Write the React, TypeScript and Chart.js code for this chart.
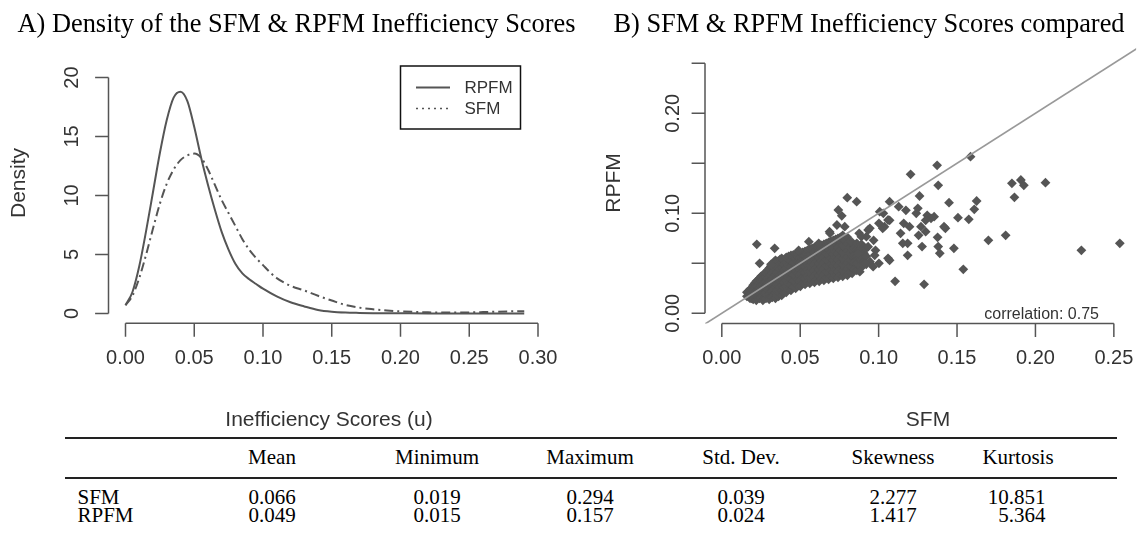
import { useEffect, useRef } from 'react';
import { Chart, registerables } from 'chart.js';

Chart.register(...registerables);

// ---------------- Panel A: densities ----------------
const rpfmGrid = [0, 0.005, 0.01, 0.015, 0.02, 0.025, 0.03, 0.035, 0.04, 0.045, 0.05, 0.055, 0.06, 0.065, 0.07, 0.075, 0.08, 0.085, 0.09, 0.095, 0.1, 0.11, 0.12, 0.13, 0.14, 0.15, 0.16, 0.17, 0.18, 0.2, 0.22, 0.24, 0.26, 0.29];
const rpfmDensity = [0.7, 1.8, 4.0, 7.0, 10.3, 13.6, 16.4, 18.3, 18.8, 18.0, 15.8, 13.2, 10.9, 8.8, 6.9, 5.4, 4.2, 3.4, 2.9, 2.5, 2.1, 1.45, 0.95, 0.6, 0.3, 0.15, 0.08, 0.05, 0.03, 0.02, 0.01, 0.01, 0.01, 0.01];
const sfmGrid = [0, 0.005, 0.01, 0.015, 0.02, 0.025, 0.03, 0.035, 0.04, 0.045, 0.05, 0.055, 0.06, 0.065, 0.07, 0.075, 0.08, 0.085, 0.09, 0.095, 0.1, 0.105, 0.11, 0.12, 0.13, 0.14, 0.15, 0.16, 0.17, 0.18, 0.19, 0.2, 0.22, 0.24, 0.26, 0.28, 0.29];
const sfmDensity = [0.7, 1.5, 3.0, 5.0, 7.2, 9.3, 11.0, 12.2, 13.0, 13.4, 13.55, 13.2, 12.2, 10.9, 9.6, 8.5, 7.4, 6.3, 5.4, 4.7, 4.1, 3.5, 3.0, 2.35, 1.95, 1.5, 1.1, 0.72, 0.5, 0.36, 0.25, 0.18, 0.1, 0.08, 0.12, 0.18, 0.2];
const densityXTicks = [0, 0.05, 0.1, 0.15, 0.2, 0.25, 0.3];
const densityXLabels = ['0.00', '0.05', '0.10', '0.15', '0.20', '0.25', '0.30'];
const densityYTicks = [0, 5, 10, 15, 20];
const densityYLabels = ['0', '5', '10', '15', '20'];
const densitySeriesNames = ['RPFM', 'SFM'];

// ---------------- Panel B: scatter ----------------
// dense cloud: each entry is [SFM score, list of RPFM scores observed near it]
const clusterColumns: [number, number[]][] = [
  [0.0160, [0.017, 0.021]],
  [0.0170, [0.017, 0.022]],
  [0.0180, [0.015, 0.019, 0.024]],
  [0.0190, [0.015, 0.020, 0.025]],
  [0.0200, [0.014, 0.018, 0.023, 0.028]],
  [0.0210, [0.016, 0.021, 0.026, 0.030]],
  [0.0220, [0.013, 0.017, 0.022, 0.027, 0.032]],
  [0.0230, [0.016, 0.022, 0.028, 0.033]],
  [0.0240, [0.015, 0.020, 0.025, 0.030, 0.035]],
  [0.0250, [0.016, 0.022, 0.028, 0.033, 0.037]],
  [0.0262, [0.013, 0.018, 0.023, 0.029, 0.034, 0.038]],
  [0.0272, [0.0155, 0.0205, 0.026, 0.0315, 0.036, 0.040]],
  [0.0282, [0.015, 0.021, 0.027, 0.032, 0.037, 0.041]],
  [0.0292, [0.018, 0.024, 0.0295, 0.0345, 0.039, 0.043]],
  [0.0302, [0.014, 0.019, 0.025, 0.031, 0.036, 0.041, 0.045]],
  [0.0312, [0.0165, 0.022, 0.028, 0.0335, 0.0385, 0.043, 0.047]],
  [0.0322, [0.016, 0.022, 0.028, 0.034, 0.040, 0.046, 0.049]],
  [0.0332, [0.019, 0.025, 0.031, 0.037, 0.043, 0.048, 0.051]],
  [0.0342, [0.015, 0.020, 0.026, 0.032, 0.038, 0.044, 0.050, 0.053]],
  [0.0352, [0.0175, 0.023, 0.029, 0.035, 0.041, 0.047, 0.052]],
  [0.0362, [0.017, 0.023, 0.029, 0.035, 0.041, 0.047, 0.052]],
  [0.0372, [0.020, 0.026, 0.032, 0.038, 0.044, 0.050, 0.054]],
  [0.0382, [0.018, 0.023, 0.028, 0.034, 0.040, 0.046, 0.051, 0.055]],
  [0.0396, [0.0205, 0.0255, 0.031, 0.037, 0.043, 0.0485, 0.053]],
  [0.0411, [0.021, 0.027, 0.033, 0.039, 0.045, 0.051, 0.056]],
  [0.0426, [0.024, 0.030, 0.036, 0.042, 0.048, 0.054, 0.057]],
  [0.0441, [0.023, 0.029, 0.035, 0.041, 0.047, 0.053, 0.058]],
  [0.0456, [0.026, 0.032, 0.038, 0.044, 0.050, 0.056, 0.0585]],
  [0.0471, [0.025, 0.031, 0.037, 0.043, 0.049, 0.055, 0.059]],
  [0.0486, [0.028, 0.034, 0.040, 0.046, 0.052, 0.057, 0.0595]],
  [0.0501, [0.027, 0.033, 0.039, 0.045, 0.051, 0.056, 0.060]],
  [0.0516, [0.030, 0.036, 0.042, 0.048, 0.054, 0.059, 0.061]],
  [0.0531, [0.029, 0.035, 0.041, 0.047, 0.053, 0.058, 0.062]],
  [0.0546, [0.0315, 0.0375, 0.0435, 0.0495, 0.0555, 0.061, 0.063]],
  [0.0561, [0.030, 0.036, 0.042, 0.048, 0.054, 0.059, 0.064]],
  [0.0576, [0.0325, 0.0385, 0.0445, 0.0505, 0.0565, 0.063, 0.065]],
  [0.0591, [0.031, 0.037, 0.043, 0.049, 0.055, 0.061, 0.066]],
  [0.0606, [0.0335, 0.0395, 0.0455, 0.0515, 0.0575, 0.0635, 0.0665]],
  [0.0621, [0.032, 0.038, 0.044, 0.050, 0.056, 0.062, 0.067]],
  [0.0636, [0.0345, 0.0405, 0.0465, 0.0525, 0.0585, 0.065, 0.068]],
  [0.0651, [0.033, 0.039, 0.045, 0.051, 0.057, 0.063, 0.069]],
  [0.0666, [0.0355, 0.0415, 0.0475, 0.0535, 0.0595, 0.0665, 0.070]],
  [0.0681, [0.034, 0.040, 0.046, 0.052, 0.058, 0.064, 0.071]],
  [0.0696, [0.0365, 0.0425, 0.0485, 0.0545, 0.0605, 0.068, 0.072]],
  [0.0711, [0.035, 0.041, 0.047, 0.053, 0.059, 0.065, 0.073]],
  [0.0726, [0.0375, 0.0435, 0.0495, 0.0555, 0.0615, 0.070, 0.074]],
  [0.0741, [0.036, 0.042, 0.048, 0.054, 0.060, 0.066, 0.075]],
  [0.0756, [0.0385, 0.0445, 0.0505, 0.0565, 0.063, 0.072, 0.076]],
  [0.0771, [0.037, 0.043, 0.049, 0.055, 0.061, 0.068, 0.078]],
  [0.0786, [0.0395, 0.0455, 0.0515, 0.0575, 0.0655, 0.073]],
  [0.0801, [0.038, 0.044, 0.050, 0.056, 0.062, 0.069, 0.076]],
  [0.0816, [0.041, 0.047, 0.053, 0.060, 0.066, 0.072]],
  [0.0831, [0.040, 0.046, 0.052, 0.058, 0.064, 0.071]],
  [0.0846, [0.0445, 0.0515, 0.0585, 0.0655]],
  [0.0861, [0.043, 0.050, 0.057, 0.064, 0.070]],
  [0.0876, [0.0475, 0.055, 0.063]],
  [0.0891, [0.046, 0.054, 0.062, 0.069]],
  [0.0906, [0.052, 0.060, 0.066]],
  [0.0921, [0.049, 0.057, 0.065]],
];
const outlierPoints: [number, number][] = [
  [0.1586, 0.1566], [0.1373, 0.148], [0.1204, 0.139], [0.138, 0.128], [0.185, 0.130], [0.1907, 0.1333],
  [0.1926, 0.128], [0.2064, 0.1306], [0.1866, 0.116], [0.1261, 0.1173], [0.1449, 0.1106], [0.1625, 0.1123],
  [0.161, 0.104], [0.1506, 0.0956], [0.1575, 0.094], [0.170, 0.073], [0.181, 0.078], [0.2293, 0.063],
  [0.2538, 0.070], [0.154, 0.044], [0.129, 0.029], [0.1105, 0.032], [0.148, 0.065], [0.138, 0.0667],
  [0.139, 0.060], [0.1277, 0.0667], [0.1376, 0.076], [0.1426, 0.085], [0.130, 0.0816], [0.1255, 0.078],
  [0.131, 0.098], [0.1334, 0.095], [0.124, 0.100], [0.107, 0.1116], [0.103, 0.100], [0.080, 0.1156],
  [0.086, 0.1116], [0.0743, 0.1033], [0.0765, 0.0975], [0.0223, 0.069], [0.0337, 0.065], [0.0241, 0.050],
  [0.0314, 0.049], [0.0687, 0.0816], [0.0784, 0.0866], [0.107, 0.093], [0.1185, 0.070], [0.1185, 0.058],
  [0.1002, 0.050], [0.0945, 0.0516], [0.106, 0.055], [0.114, 0.080], [0.116, 0.090], [0.1128, 0.1066],
  [0.1174, 0.103], [0.1197, 0.0866], [0.0968, 0.073], [0.098, 0.063], [0.0922, 0.0766], [0.0876, 0.080],
  [0.0933, 0.0833], [0.1037, 0.0866], [0.1002, 0.090],
  [0.1007, 0.1016], [0.106, 0.0933], [0.1026, 0.085], [0.0944, 0.085], [0.089, 0.0766], [0.0933, 0.0666],
  [0.087, 0.060], [0.0975, 0.058], [0.0912, 0.050], [0.088, 0.0416], [0.0965, 0.0466], [0.107, 0.053],
  [0.1154, 0.070], [0.127, 0.0866], [0.130, 0.093], [0.1354, 0.0966], [0.1417, 0.0866], [0.125, 0.105],
  [0.069, 0.080], [0.0734, 0.0883], [0.0618, 0.070], [0.0555, 0.0716], [0.049, 0.063],
];
const diagonalEnds = [-0.02, 0.3];
const correlation = 0.75;
const scatterXTicks = [0, 0.05, 0.1, 0.15, 0.2, 0.25];
const scatterXLabels = ['0.00', '0.05', '0.10', '0.15', '0.20', '0.25'];
const scatterYTicks = [0, 0.05, 0.1, 0.15, 0.2, 0.25];
const scatterYLabels = ['0.00', '', '0.10', '', '0.20', ''];

// ---------------- Table ----------------
const tableColumns = ['Mean', 'Minimum', 'Maximum', 'Std. Dev.', 'Skewness', 'Kurtosis'];
const tableRowNames = ['SFM', 'RPFM'];
const sfmStats = ['0.066', '0.019', '0.294', '0.039', '2.277', '10.851'];
const rpfmStats = ['0.049', '0.015', '0.157', '0.024', '1.417', '5.364'];

// ---------------- styling ----------------
const SANS = '"Liberation Sans", Arial, Helvetica, sans-serif';
const SERIF = '"Liberation Serif", "Times New Roman", Times, serif';
const INK = '#555555';
const AXIS = '#555555';
const TEXT = '#333333';

type AxisCfg = {
  xTicks: number[]; xLabels: string[]; yTicks: number[]; yLabels: string[];
  xLabelBaseline: number; yLabelBaseline: number;
  xTitle: string; xTitleX: number; xTitleBaseline: number;
  yTitle: string; yTitleBaseline: number; yTitleY: number;
};

function makeAxesPlugin(cfg: AxisCfg) {
  return {
    id: 'rStyleAxes',
    afterDraw(chart: any) {
      const ctx: CanvasRenderingContext2D = chart.ctx;
      const xs = chart.scales.x;
      const ys = chart.scales.y;
      const area = chart.chartArea;
      const tick = 13.4;
      ctx.save();
      ctx.strokeStyle = AXIS;
      ctx.lineWidth = 1.5;
      ctx.beginPath();
      const ax = area.left;
      ctx.moveTo(ax, ys.getPixelForValue(cfg.yTicks[0]));
      ctx.lineTo(ax, ys.getPixelForValue(cfg.yTicks[cfg.yTicks.length - 1]));
      cfg.yTicks.forEach((v) => {
        const p = ys.getPixelForValue(v);
        ctx.moveTo(ax, p);
        ctx.lineTo(ax - tick, p);
      });
      const by = area.bottom;
      ctx.moveTo(xs.getPixelForValue(cfg.xTicks[0]), by);
      ctx.lineTo(xs.getPixelForValue(cfg.xTicks[cfg.xTicks.length - 1]), by);
      cfg.xTicks.forEach((v) => {
        const p = xs.getPixelForValue(v);
        ctx.moveTo(p, by);
        ctx.lineTo(p, by + tick);
      });
      ctx.stroke();

      ctx.fillStyle = TEXT;
      ctx.font = `20px ${SANS}`;
      ctx.textAlign = 'center';
      ctx.textBaseline = 'alphabetic';
      cfg.xTicks.forEach((v, i) => {
        ctx.fillText(cfg.xLabels[i], xs.getPixelForValue(v), cfg.xLabelBaseline);
      });
      cfg.yTicks.forEach((v, i) => {
        if (!cfg.yLabels[i]) return;
        ctx.save();
        ctx.translate(cfg.yLabelBaseline, ys.getPixelForValue(v));
        ctx.rotate(-Math.PI / 2);
        ctx.fillText(cfg.yLabels[i], 0, 0);
        ctx.restore();
      });
      ctx.font = `21px ${SANS}`;
      ctx.fillText(cfg.xTitle, cfg.xTitleX, cfg.xTitleBaseline);
      ctx.save();
      ctx.translate(cfg.yTitleBaseline, cfg.yTitleY);
      ctx.rotate(-Math.PI / 2);
      ctx.fillText(cfg.yTitle, 0, 0);
      ctx.restore();
      ctx.restore();
    },
  };
}

const legendPlugin = {
  id: 'boxLegend',
  afterDraw(chart: any) {
    const ctx: CanvasRenderingContext2D = chart.ctx;
    const ds = chart.data.datasets;
    ctx.save();
    ctx.strokeStyle = '#111';
    ctx.lineWidth = 1.5;
    ctx.strokeRect(400.5, 66, 120, 63);
    const rows = [87.5, 108.5];
    ds.forEach((d: any, i: number) => {
      ctx.beginPath();
      ctx.strokeStyle = INK;
      ctx.lineWidth = i === 0 ? 2 : 1.6;
      ctx.setLineDash(i === 0 ? [] : [2, 4]);
      ctx.moveTo(416, rows[i]);
      ctx.lineTo(450, rows[i]);
      ctx.stroke();
      ctx.setLineDash([]);
      ctx.fillStyle = TEXT;
      ctx.font = `17px ${SANS}`;
      ctx.textAlign = 'left';
      ctx.textBaseline = 'middle';
      ctx.fillText(d.label, 464.5, rows[i] + 0.5);
    });
    ctx.restore();
  },
};

const correlationPlugin = {
  id: 'corrText',
  afterDraw(chart: any) {
    const ctx: CanvasRenderingContext2D = chart.ctx;
    ctx.save();
    ctx.fillStyle = TEXT;
    ctx.font = `16px ${SANS}`;
    ctx.textAlign = 'right';
    ctx.textBaseline = 'middle';
    ctx.fillText(`correlation: ${correlation.toFixed(2)}`, 509, 315);
    ctx.restore();
  },
};

const LEFT_W = 590;
const RIGHT_X = 590;
const RIGHT_W = 1141 - 590;
const CANVAS_H = 432;

function DensityChart() {
  const ref = useRef<HTMLCanvasElement>(null);
  useEffect(() => {
    const chart = new Chart(ref.current as HTMLCanvasElement, {
      type: 'scatter',
      data: {
        datasets: [
          {
            label: densitySeriesNames[0],
            data: rpfmGrid.map((x, i) => ({ x, y: rpfmDensity[i] })),
            showLine: true,
            borderColor: INK,
            borderWidth: 2,
            pointRadius: 0,
            cubicInterpolationMode: 'monotone',
          } as any,
          {
            label: densitySeriesNames[1],
            data: sfmGrid.map((x, i) => ({ x, y: sfmDensity[i] })),
            showLine: true,
            borderColor: INK,
            borderWidth: 2,
            borderDash: [9, 4, 2, 4],
            pointRadius: 0,
            cubicInterpolationMode: 'monotone',
          } as any,
        ],
      },
      options: {
        responsive: false,
        animation: false,
        devicePixelRatio: 1,
        events: [],
        layout: { padding: { left: 108.5, right: LEFT_W - 551.5, top: 55, bottom: CANVAS_H - 323.3 } },
        plugins: { legend: { display: false }, tooltip: { enabled: false } },
        scales: {
          x: { type: 'linear', display: false, min: -0.012364, max: 0.30982 },
          y: { type: 'linear', display: false, min: -0.8305, max: 21.907 },
        },
      },
      plugins: [
        makeAxesPlugin({
          xTicks: densityXTicks, xLabels: densityXLabels, yTicks: densityYTicks, yLabels: densityYLabels,
          xLabelBaseline: 363.5, yLabelBaseline: 78,
          xTitle: 'Inefficiency Scores (u)', xTitleX: 329, xTitleBaseline: 426,
          yTitle: 'Density', yTitleBaseline: 24.5, yTitleY: 183,
        }),
        legendPlugin,
      ],
    });
    return () => chart.destroy();
  }, []);
  return (
    <canvas ref={ref} width={LEFT_W} height={CANVAS_H}
      style={{ position: 'absolute', left: 0, top: 0, width: LEFT_W, height: CANVAS_H }} />
  );
}

function ScatterChart() {
  const ref = useRef<HTMLCanvasElement>(null);
  useEffect(() => {
    const pts: { x: number; y: number }[] = [];
    clusterColumns.forEach(([x, ys]) => ys.forEach((y) => pts.push({ x, y })));
    outlierPoints.forEach(([x, y]) => pts.push({ x, y }));
    const chart = new Chart(ref.current as HTMLCanvasElement, {
      type: 'scatter',
      data: {
        datasets: [
          {
            label: 'y = x',
            data: diagonalEnds.map((v) => ({ x: v, y: v })),
            showLine: true,
            borderColor: '#999999',
            borderWidth: 1.6,
            pointRadius: 0,
            order: 0,
          } as any,
          {
            label: 'SFM vs RPFM',
            data: pts,
            pointStyle: 'rectRot',
            pointRadius: 4.9,
            pointHoverRadius: 4.9,
            backgroundColor: INK,
            borderWidth: 0,
            order: 1,
          } as any,
        ],
      },
      options: {
        responsive: false,
        animation: false,
        devicePixelRatio: 1,
        events: [],
        layout: { padding: { left: 705 - RIGHT_X, right: 0, top: 45, bottom: CANVAS_H - 323.5 } },
        plugins: { legend: { display: false }, tooltip: { enabled: false } },
        scales: {
          x: { type: 'linear', display: false, min: -0.01072, max: 0.26419 },
          y: { type: 'linear', display: false, min: -0.0102, max: 0.2683 },
        },
      },
      plugins: [
        makeAxesPlugin({
          xTicks: scatterXTicks, xLabels: scatterXLabels, yTicks: scatterYTicks, yLabels: scatterYLabels,
          xLabelBaseline: 363.5, yLabelBaseline: 679 - RIGHT_X,
          xTitle: 'SFM', xTitleX: 928 - RIGHT_X, xTitleBaseline: 425.5,
          yTitle: 'RPFM', yTitleBaseline: 620 - RIGHT_X, yTitleY: 183,
        }),
        correlationPlugin,
      ],
    });
    return () => chart.destroy();
  }, []);
  return (
    <canvas ref={ref} width={RIGHT_W} height={CANVAS_H}
      style={{ position: 'absolute', left: RIGHT_X, top: 0, width: RIGHT_W, height: CANVAS_H }} />
  );
}

const colCenters = [272, 437, 590, 741, 893, 1018];

function cell(text: string, center: number, top: number, key: string, align: 'center' | 'right' | 'left' = 'center') {
  const w = 200;
  const left = align === 'center' ? center - w / 2 : align === 'right' ? center - w : center;
  return (
    <div key={key} style={{
      position: 'absolute', left, top, width: w, textAlign: align,
      font: `21px/21px ${SERIF}`, color: '#000', whiteSpace: 'nowrap',
    }}>{text}</div>
  );
}

function StatsTable() {
  const rows = [sfmStats, rpfmStats];
  const rowTops = [487.4, 505.1];
  const cells: any[] = [];
  tableColumns.forEach((c, i) => cells.push(cell(c, colCenters[i], 447.4, 'h' + i)));
  rows.forEach((r, ri) => {
    cells.push(cell(tableRowNames[ri], 77.5, rowTops[ri], 'n' + ri, 'left'));
    r.forEach((v, ci) => {
      cells.push(ci === 5
        ? cell(v, 1045.5, rowTops[ri], `v${ri}${ci}`, 'right')
        : cell(v, colCenters[ci], rowTops[ri], `v${ri}${ci}`));
    });
  });
  return (
    <>
      <div style={{ position: 'absolute', left: 65, top: 437, width: 1052, height: 2, background: '#222' }} />
      <div style={{ position: 'absolute', left: 65, top: 476.5, width: 1052, height: 2, background: '#222' }} />
      {cells}
    </>
  );
}

export default function App() {
  const titleStyle = {
    position: 'absolute' as const, top: 7.6, font: `26.4px/30px ${SERIF}`, color: '#000',
    textAlign: 'center' as const, whiteSpace: 'nowrap' as const,
  };
  return (
    <div style={{ position: 'absolute', left: 0, top: 0, width: 1141, height: 539, background: '#fff', overflow: 'hidden' }}>
      <DensityChart />
      <ScatterChart />
      <div style={{ ...titleStyle, left: 0, width: 593 }}>A) Density of the SFM &amp; RPFM Inefficiency Scores</div>
      <div style={{ ...titleStyle, left: 590, width: 558 }}>B) SFM &amp; RPFM Inefficiency Scores compared</div>
      <StatsTable />
    </div>
  );
}
